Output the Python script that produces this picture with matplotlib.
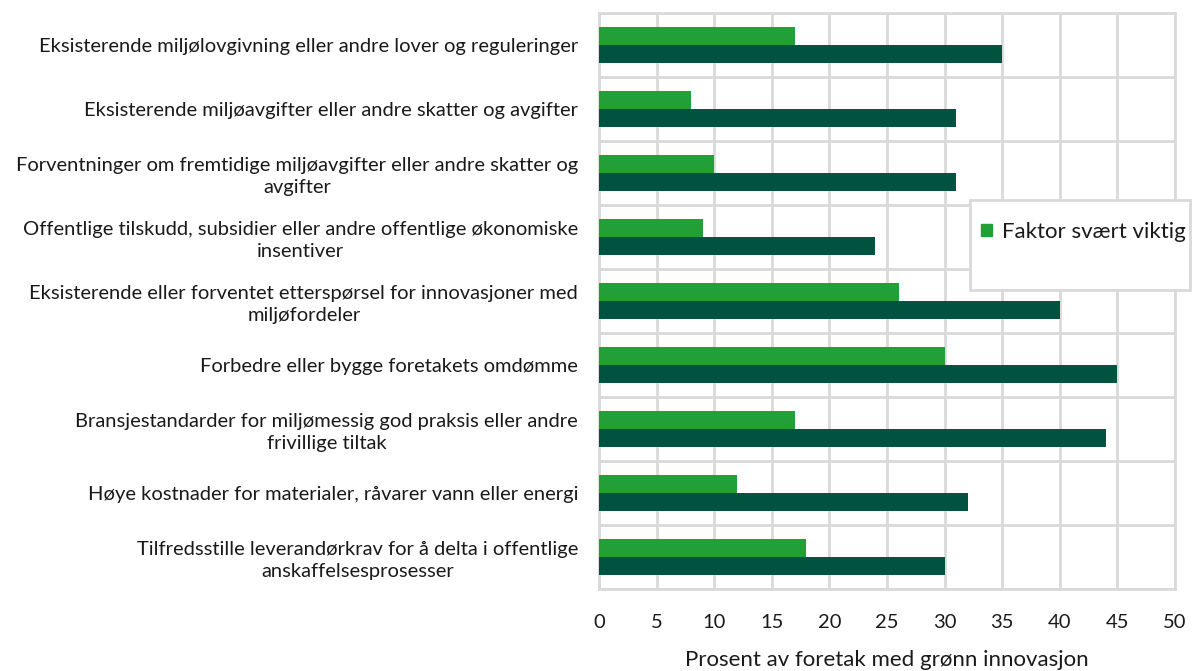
import matplotlib.pyplot as plt
import matplotlib.patches as mpatches
import numpy as np

categories = [
    "Eksisterende miljølovgivning eller andre lover og reguleringer",
    "Eksisterende miljøavgifter eller andre skatter og avgifter",
    "Forventninger om fremtidige miljøavgifter eller andre skatter og\navgifter",
    "Offentlige tilskudd, subsidier eller andre offentlige økonomiske\ninsentiver",
    "Eksisterende eller forventet etterspørsel for innovasjoner med\nmiljøfordeler",
    "Forbedre eller bygge foretakets omdømme",
    "Bransjestandarder for miljømessig god praksis eller andre\nfrivillige tiltak",
    "Høye kostnader for materialer, råvarer vann eller energi",
    "Tilfredsstille leverandørkrav for å delta i offentlige\nanskaffelsesprosesser",
]
svaert_viktig = [17, 8, 10, 9, 26, 30, 17, 12, 18]
viktig = [35, 31, 31, 24, 40, 45, 44, 32, 30]
xticks = [0, 5, 10, 15, 20, 25, 30, 35, 40, 45, 50]

LIGHT = "#21A038"
DARK = "#00543F"
GRID = "#D9D9D9"
TXT = "#1a1a1a"

plt.rcParams["font.family"] = ["Lato", "DejaVu Sans"]

fig = plt.figure(figsize=(11.94, 6.71), dpi=100)
ax = fig.add_axes([599 / 1194, 1 - 589 / 671, 576 / 1194, 576 / 671])

y = np.arange(len(categories))
h = 0.28
ax.barh(y - h / 2, svaert_viktig, height=h, color=LIGHT, zorder=3)
ax.barh(y + h / 2, viktig, height=h, color=DARK, zorder=3)

ax.set_xlim(0, 50)
ax.set_ylim(len(categories) - 0.5, -0.5)
ax.set_xticks(xticks)
ax.set_yticks(y)
ax.set_yticklabels(categories, fontsize=14.5, color=TXT, ha="right",
                   multialignment="center", linespacing=1.3)
ax.set_yticks(np.arange(len(categories) + 1) - 0.5, minor=True)
ax.tick_params(axis="y", which="both", length=0, pad=15)
ax.tick_params(axis="x", length=0, labelsize=14.5, pad=18, colors=TXT)
ax.grid(axis="x", color=GRID, linewidth=2, zorder=0)
ax.grid(axis="y", which="minor", color=GRID, linewidth=2, zorder=0)
ax.grid(axis="y", which="major", visible=False)
for s in ax.spines.values():
    s.set_color(GRID)
    s.set_linewidth(2)

ax.set_xlabel("Prosent av foretak med grønn innovasjon", fontsize=16,
              color=TXT, labelpad=14)

# legend box
box = mpatches.Rectangle((970 / 1194, 1 - 290 / 671), 220 / 1194, 90 / 671,
                         transform=fig.transFigure, facecolor="white",
                         edgecolor=GRID, linewidth=2, zorder=4)
fig.patches.append(box)

leg = fig.legend([mpatches.Patch(color=LIGHT)], ["Faktor svært viktig"],
                 loc="center left", bbox_to_anchor=(970 / 1194, 1 - 232 / 671),
                 fontsize=16, frameon=False, handlelength=0.5,
                 handleheight=0.5, handletextpad=0.45, borderpad=0.5,
                 borderaxespad=0)
leg.set_zorder(5)
for t in leg.get_texts():
    t.set_color(TXT)

fig.savefig("out.png", dpi=100)
